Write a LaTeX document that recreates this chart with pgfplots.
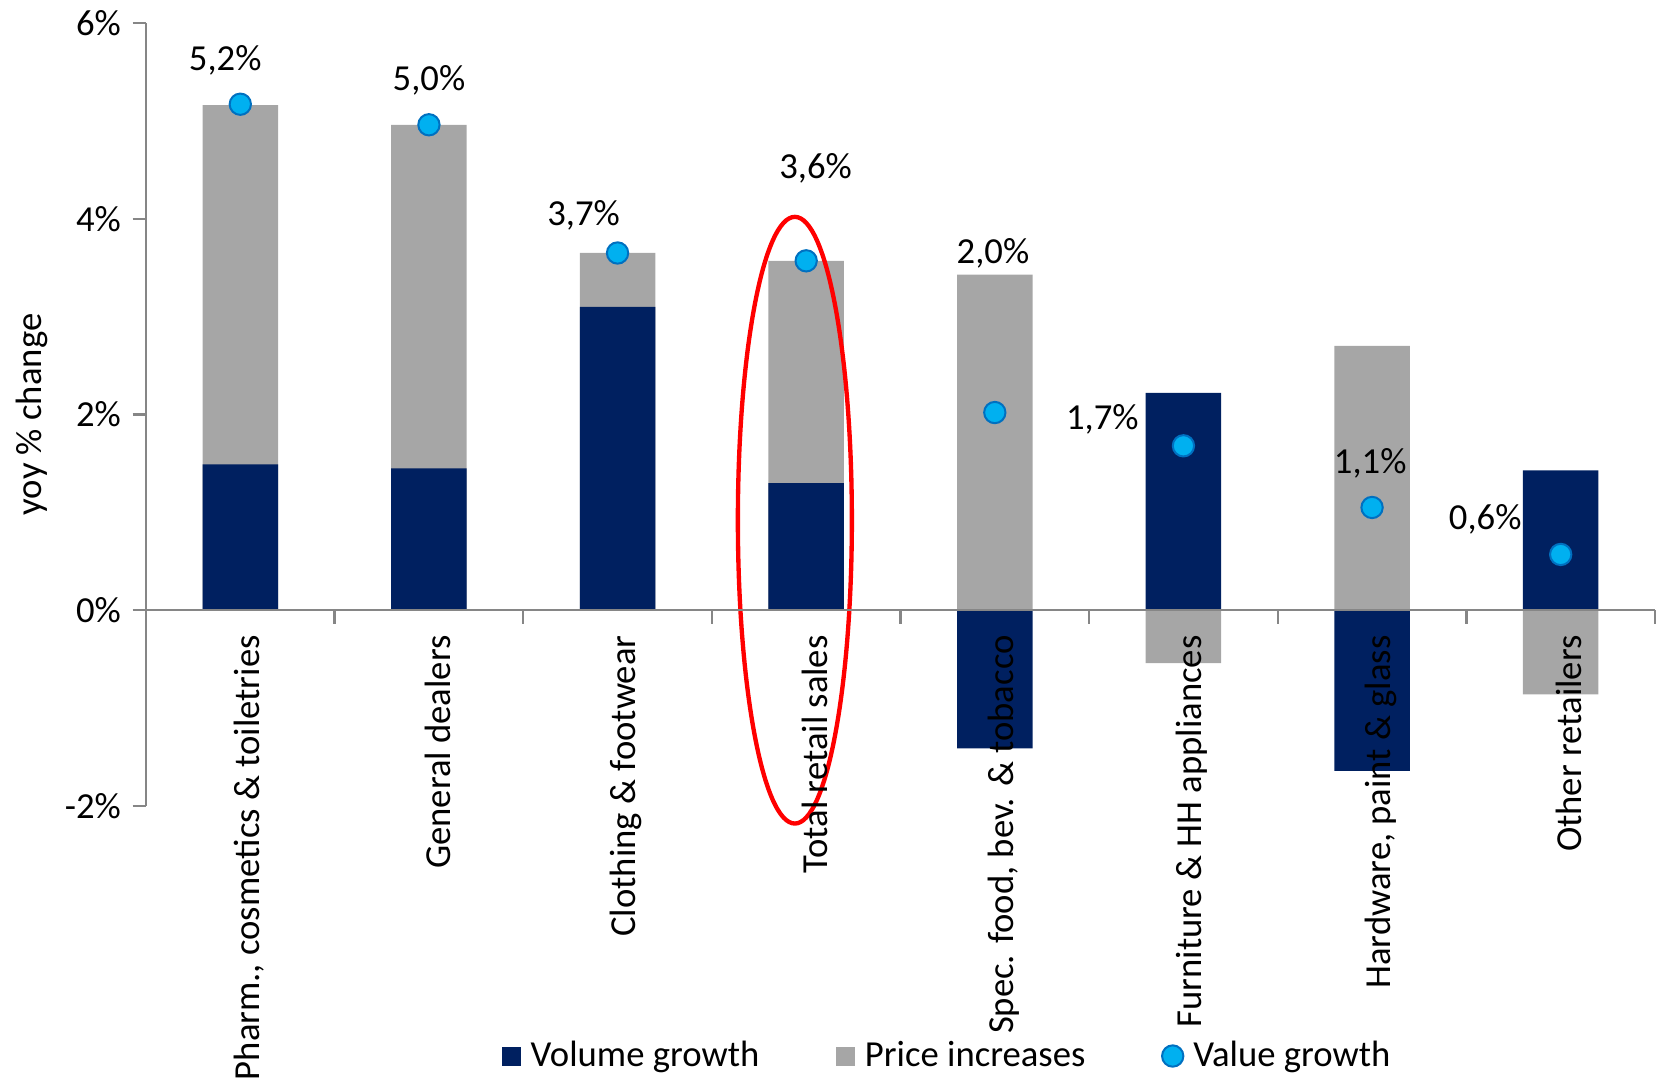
\documentclass[border=0pt]{standalone}
\usepackage{fontspec}
\setmainfont{Carlito}
\usepackage{pgfplots}
\usepackage{pgfplotstable}
\pgfplotsset{compat=1.18}

\definecolor{volnavy}{RGB}{0,32,96}
\definecolor{pricegray}{RGB}{166,166,166}
\definecolor{valfill}{RGB}{0,176,240}
\definecolor{valdraw}{RGB}{0,112,192}
\definecolor{axgray}{RGB}{134,134,134}

\newcommand{\f}{\fontsize{11}{13.2}\selectfont}

% yoy % change: volume and price contributions, value growth
\pgfplotstableread{
x vol price val
0  1.49  3.67 5.17
1  1.45  3.51 4.96
2  3.10  0.55 3.65
3  1.30  2.27 3.57
4 -1.41  3.43 2.02
5  2.22 -0.54 1.68
6 -1.64  2.70 1.05
7  1.43 -0.86 0.57
}\retail

\pgfplotsset{
  sq/.style={legend image code/.code={\fill[##1, draw=none] (0pt,-2.85pt) rectangle (5.7pt,2.85pt);}},
}

\begin{document}
\begin{tikzpicture}[font=\f]
\begin{axis}[
  at={(0,0)}, anchor=south west,
  scale only axis, width=452.7pt, height=234.9pt,
  xmin=-0.5, xmax=7.5, ymin=-2, ymax=6,
  clip=false,
  axis x line*=middle, axis y line*=left,
  axis line style={axgray, line width=0.7pt},
  axis on top,
  tick align=outside,
  tick style={axgray, line width=0.7pt},
  major tick length=4pt, minor tick length=4pt,
  xtick={0,...,7},
  every major x tick/.style={draw=none},
  minor xtick={0.5,1.5,...,7.5},
  xticklabels={{Pharm., cosmetics \& toiletries}, General dealers, Clothing \& footwear, Total retail sales, {Spec. food, bev. \& tobacco}, Furniture \& HH appliances, {Hardware, paint \& glass}, Other retailers},
  xticklabel style={rotate=90, anchor=east, yshift=-2.6pt, font=\f},
  ytick={-2,0,2,4,6},
  yticklabels={-2\%,0\%,2\%,4\%,6\%},
  yticklabel style={font=\f},
  every axis y label/.style={at={(axis description cs:-0.0755,0.5)}, rotate=90, anchor=center, font=\f},
  ylabel={yoy \% change},
  legend columns=3,
  legend style={at={(0.2353,-0.3193)}, anchor=west, draw=none, fill=none, inner sep=0pt, font=\f,
    nodes={inner xsep=3pt},
    /tikz/every even column/.append style={column sep=20pt}},
  legend cell align=left,
]
% gray: price part, stacked on volume when both have the same sign
\addplot[ybar, bar width=0.4, bar shift=0pt, fill=pricegray, draw=none, forget plot]
  table[x=x, y expr={(\thisrow{vol}*\thisrow{price}>0) ? (\thisrow{vol}+\thisrow{price}) : \thisrow{price}}]{\retail};
\addplot[ybar, bar width=0.4, bar shift=0pt, fill=volnavy, draw=none, sq]
  table[x=x, y=vol]{\retail};
\addlegendentry{Volume growth}
\addlegendimage{sq, fill=pricegray}
\addlegendentry{Price increases}
\addplot[only marks, mark=*, mark size=3.2pt, mark options={fill=valfill, draw=valdraw, line width=0.6pt}]
  table[x=x, y=val]{\retail};
\addlegendentry{Value growth}

\node at (axis cs:-0.08,5.62) {5,2\%};
\node at (axis cs:1.0,5.41) {5,0\%};
\node at (axis cs:1.82,4.03) {3,7\%};
\node at (axis cs:3.05,4.51) {3,6\%};
\node at (axis cs:3.99,3.65) {2,0\%};
\node at (axis cs:4.57,1.95) {1,7\%};
\node at (axis cs:5.99,1.50) {1,1\%};
\node at (axis cs:6.60,0.93) {0,6\%};

\draw[red, line width=1.3pt] (axis cs:2.94,0.92) ellipse [x radius=17.1pt, y radius=91pt];
\end{axis}
\pgfresetboundingbox
\path[use as bounding box] (-43.8pt,-84.3pt) rectangle (453.6pt,241.8pt);
\end{tikzpicture}
\end{document}
